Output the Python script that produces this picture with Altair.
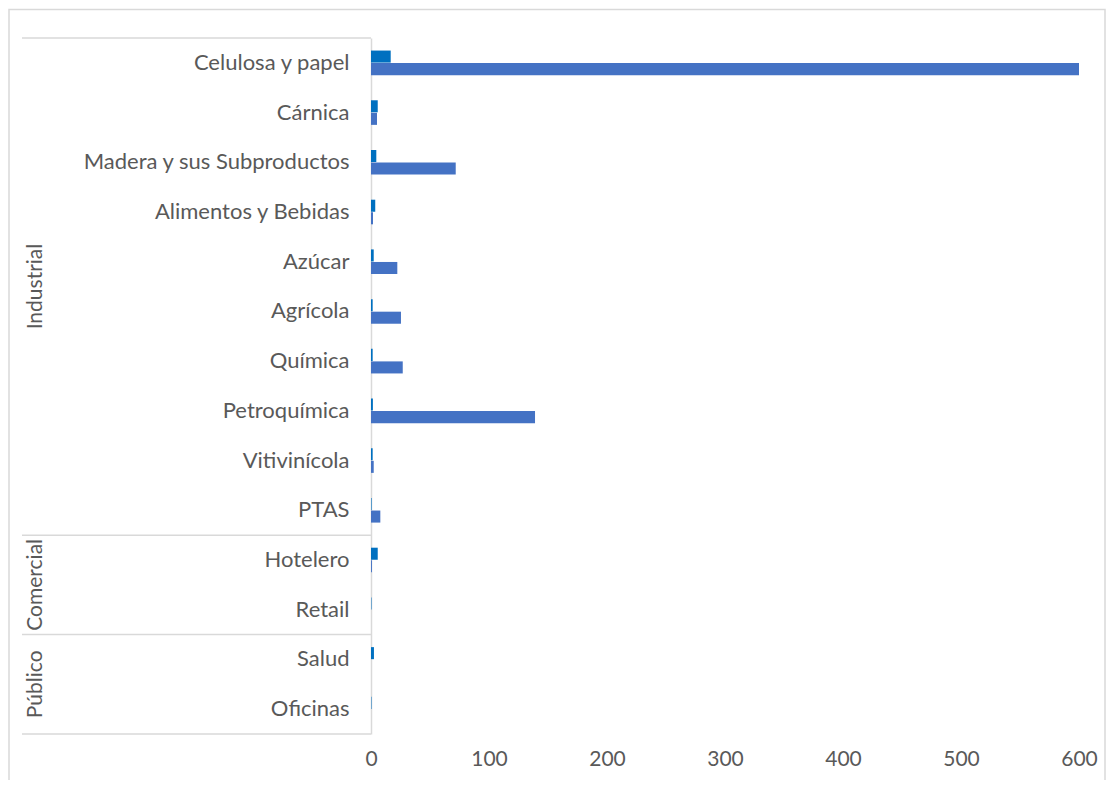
import altair as alt
import pandas as pd

categorias = ["Celulosa y papel", "Cárnica", "Madera y sus Subproductos", "Alimentos y Bebidas",
              "Azúcar", "Agrícola", "Química", "Petroquímica", "Vitivinícola", "PTAS",
              "Hotelero", "Retail", "Salud", "Oficinas"]
sectores = ["Industrial"] * 10 + ["Comercial"] * 2 + ["Público"] * 2
serie_1 = [16.7, 5.7, 4.5, 3.6, 2.3, 1.4, 1.4, 1.6, 1.4, 0.5, 5.7, 0.4, 2.5, 0.4]
serie_2 = [600, 5.1, 71.8, 1.7, 22.3, 25.4, 26.9, 139, 2.3, 7.9, 0.8, 0, 0, 0]
nombres_series = ["Serie 1", "Serie 2"]
colores = ["#0070C0", "#4472C4"]
ticks_x = [0, 100, 200, 300, 400, 500, 600]

# group labels anchored at the boundary between the two middle categories of each group
grupo_etiquetas = ["Industrial", "Comercial", "Público"]
grupo_ancla = ["Azúcar", "Hotelero", "Salud"]
# group separators (top edge of each group's first category)
separadores_top = ["Celulosa y papel", "Hotelero", "Salud"]
separador_fondo = ["Oficinas"]

rows = []
for c, s, a, b in zip(categorias, sectores, serie_1, serie_2):
    rows.append({"Categoría": c, "Sector": s, "Serie": nombres_series[0], "Valor": a})
    rows.append({"Categoría": c, "Sector": s, "Serie": nombres_series[1], "Valor": b})
df = pd.DataFrame(rows)

FONT = "Lato"
TXT = "#595959"
LINE = "#D9D9D9"
W, H = 708, 696


def yenc(band_pos=0.5):
    return alt.Y("Categoría:N", bandPosition=band_pos,
                 scale=alt.Scale(domain=categorias, paddingInner=0, paddingOuter=0),
                 axis=alt.Axis(title=None, ticks=False, domain=True, domainColor=LINE, domainWidth=1.5,
                               labelPadding=22, labelFont=FONT, labelFontSize=22, labelColor=TXT,
                               labelLimit=400))


bars = alt.Chart(df).mark_bar().encode(
    x=alt.X("Valor:Q", scale=alt.Scale(domain=[0, 600], nice=False),
            axis=alt.Axis(values=ticks_x, grid=False, domain=False, ticks=False, title=None,
                          labelFlush=False, labelPadding=14, labelFont=FONT, labelFontSize=21,
                          labelColor=TXT)),
    y=alt.Y("Categoría:N",
            scale=alt.Scale(domain=categorias, paddingInner=0, paddingOuter=0),
            axis=alt.Axis(title=None, ticks=False, domain=True, domainColor=LINE, domainWidth=1.5,
                          labelPadding=22, labelFont=FONT, labelFontSize=22, labelColor=TXT,
                          labelLimit=400)),
    yOffset=alt.YOffset("Serie:N", sort=nombres_series,
                        scale=alt.Scale(paddingOuter=1, paddingInner=0.04)),
    color=alt.Color("Serie:N", scale=alt.Scale(domain=nombres_series, range=colores), legend=None),
)

sep_top = alt.Chart(pd.DataFrame({"Categoría": separadores_top})).mark_rule(
    color=LINE, strokeWidth=1.5).encode(
    y=yenc(0), x=alt.value(-349), x2=alt.value(0),
)
sep_bot = alt.Chart(pd.DataFrame({"Categoría": separador_fondo})).mark_rule(
    color=LINE, strokeWidth=1.5).encode(
    y=yenc(1), x=alt.value(-349), x2=alt.value(0),
)
grupos = alt.Chart(pd.DataFrame({"Categoría": grupo_ancla, "Etiqueta": grupo_etiquetas})).mark_text(
    angle=270, align="center", baseline="middle", font=FONT, fontSize=21, color=TXT).encode(
    y=yenc(1), x=alt.value(-335), text="Etiqueta:N",
)
marco = alt.Chart(pd.DataFrame({"k": [0]})).mark_rect(
    filled=False, stroke=LINE, strokeWidth=1.5).encode(
    x=alt.value(-362), x2=alt.value(734), y=alt.value(-28.5), y2=alt.value(790),
)

chart = alt.layer(marco, sep_top, sep_bot, grupos, bars).properties(
    width=W, height=H,
    background="white",
    autosize=alt.AutoSizeParams(type="none"),
    padding={"left": 363, "top": 30, "right": 29, "bottom": 46},
).configure_view(stroke="transparent", strokeWidth=0)

chart.save("out.html", embed_options={"renderer": "svg", "actions": False})
